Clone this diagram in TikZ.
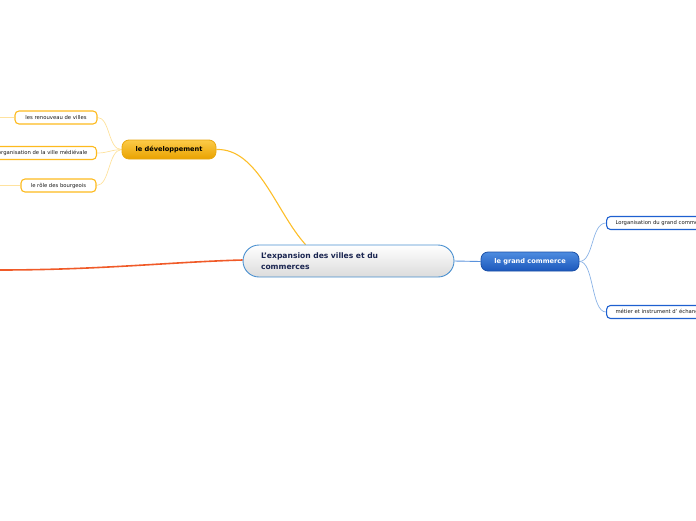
\documentclass[tikz,border=0pt]{standalone}
\usepackage{fontspec}
\setmainfont{DejaVu Sans}
\usetikzlibrary{backgrounds}
\begin{document}
\begin{tikzpicture}[x=1pt,y=-1pt,
  central/.style={draw=cblue,line width=0.9pt,rounded corners=16pt,top color=white,bottom color=gray!28,
    minimum width=211pt,minimum height=32pt,text width=175pt,inner xsep=18pt,align=left,
    font=\fontsize{7.6}{10.5}\selectfont\bfseries,text=navy},
  branchO/.style={draw=obord,line width=0.8pt,rounded corners=7pt,top color=otop,bottom color=obot,
    minimum width=94pt,minimum height=19pt,inner sep=0pt,font=\fontsize{6.6}{7}\selectfont\bfseries,text=black},
  branchB/.style={draw=bbord,line width=0.8pt,rounded corners=7pt,top color=btop,bottom color=bbot,
    minimum width=98pt,minimum height=19pt,inner sep=0pt,font=\fontsize{6.6}{7}\selectfont\bfseries,text=white},
  leafO/.style={draw=oleaf,line width=1.1pt,rounded corners=4pt,fill=white,minimum height=13pt,inner sep=0pt,
    font=\fontsize{5.3}{6}\selectfont,text=gray!20!black},
  leafB/.style={draw=bleaf,line width=1.1pt,rounded corners=4pt,fill=white,minimum height=13pt,inner sep=0pt,
    font=\fontsize{5.3}{6}\selectfont,text=gray!20!black},
  conO/.style={draw=ocon,line width=1.1pt},
  conOl/.style={draw=ocon!45,line width=0.7pt},
  conB/.style={draw=bcon,line width=0.9pt},
  conBl/.style={draw=bcon!70,line width=0.7pt},
  conR/.style={draw=redc,line width=1.6pt}
]
\definecolor{cblue}{HTML}{4A90D0}
\definecolor{navy}{HTML}{1A2550}
\definecolor{obord}{HTML}{E8A810}
\definecolor{otop}{HTML}{FCCB48}
\definecolor{obot}{HTML}{E9A200}
\definecolor{bbord}{HTML}{1A50A8}
\definecolor{btop}{HTML}{4E8CE0}
\definecolor{bbot}{HTML}{1C58BC}
\definecolor{oleaf}{HTML}{FDBA1E}
\definecolor{bleaf}{HTML}{1E60D0}
\definecolor{ocon}{HTML}{FDBE28}
\definecolor{bcon}{HTML}{5A92DC}
\definecolor{redc}{HTML}{F05A28}
\useasboundingbox (0,0) rectangle (696,520);
\clip (0,0) rectangle (696,520);

% nodes
\node[central] (c) at (348.5,261) {L'expansion des villes et du\\commerces};
\node[branchO] (dev) at (169,149.5) {le développement};
\node[branchB] (gc) at (530,261.5) {le grand commerce};

\node[leafO,minimum width=82pt] (l1) at (56,117.5) {les renouveau de villes};
\node[leafO,inner xsep=9pt,anchor=east] (l2) at (97,153) {l'organisation de la ville médiévale};
\node[leafO,minimum width=75pt] (l3) at (58.5,185.5) {le rôle des bourgeois};

\node[leafB,anchor=west,inner xsep=9pt] (r1) at (606,223) {Lorganisation du grand commerce};
\node[leafB,anchor=west,inner xsep=9pt] (r2) at (606,312) {métier et instrument d' échange};

% off-screen ends
\coordinate (redEnd) at (-2,270);
\coordinate (o1) at (-2,117.5);
\coordinate (o3) at (-2,185.5);

% connectors
\begin{scope}[on background layer]
\draw[conO] (dev.east) .. controls (258,148) and (276,212) .. ([xshift=-43pt]c.north);
\draw[conOl] (dev.west) .. controls (108,150) and (110,117.5) .. (l1.east);
\draw[conOl] (dev.west) .. controls (110,150) and (108,153) .. (l2.east);
\draw[conOl] (dev.west) .. controls (108,150) and (110,185.5) .. (l3.east);
\draw[conOl] (l1.west) -- (o1);
\draw[conOl] (l3.west) -- (o3);
\draw[conB] (c.east) -- (gc.west);
\draw[conBl] (gc.east) .. controls (594,261) and (591,223) .. (r1.west);
\draw[conBl] (gc.east) .. controls (594,261) and (591,312) .. (r2.west);
\draw[conR] ([yshift=1pt]c.west) .. controls (170,262) and (100,270) .. (redEnd);
\end{scope}
\end{tikzpicture}
\end{document}
